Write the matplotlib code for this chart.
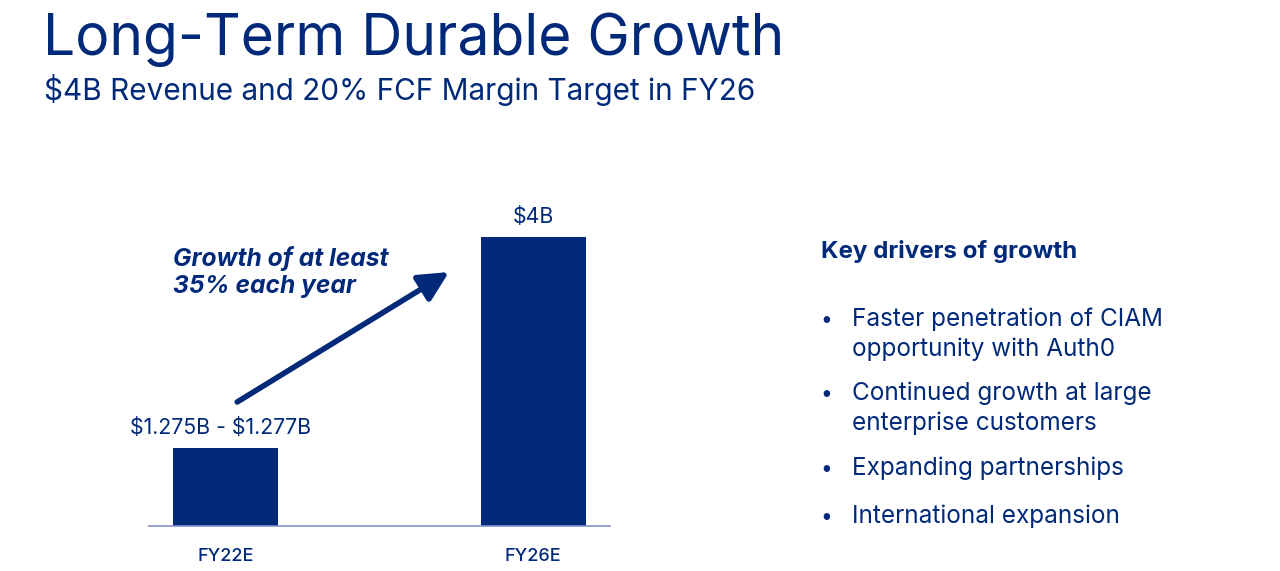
import matplotlib
matplotlib.use('Agg')
import matplotlib.pyplot as plt

# data
years = ['FY22E', 'FY26E']
revenue = [1.276, 4.0]
bar_labels = ['$1.275B - $1.277B', '$4B']
drivers = ['Faster penetration of CIAM\nopportunity with Auth0',
           'Continued growth at large\nenterprise customers',
           'Expanding partnerships',
           'International expansion']

NAVY = '#00297a'
W, H = 1280, 571

plt.rcParams['font.family'] = ['Inter', 'DejaVu Sans']
plt.rcParams['text.parse_math'] = False

fig = plt.figure(figsize=(W / 100, H / 100), dpi=100)
fig.patch.set_facecolor('white')

def fx(px):
    return px / W

def fy(py):
    return 1 - py / H

fig.text(fx(43), fy(55), 'Long-Term Durable Growth', fontsize=41, color=NAVY,
         va='baseline', ha='left')
fig.text(fx(44), fy(100), '$4B Revenue and 20% FCF Margin Target in FY26', fontsize=21.4,
         color=NAVY, va='baseline', ha='left')

# bar chart
ax = fig.add_axes([fx(149), 45 / H, (610 - 149) / W, (526 - 200) / H])
x = range(len(years))
bars = ax.bar(x, revenue, width=0.3425, color=NAVY)
ax.set_xlim(-0.25, 1.25)
ax.set_ylim(0.265, 4.474)
for s in ['top', 'left', 'right']:
    ax.spines[s].set_visible(False)
ax.spines['bottom'].set_color('#8190c6')
ax.spines['bottom'].set_linewidth(1.2)
ax.set_yticks([])
ax.set_xticks(list(x))
ax.set_xticklabels(years, fontsize=13, color=NAVY, fontweight='medium')
ax.tick_params(axis='x', length=0, pad=16)
labels = ax.bar_label(bars, labels=bar_labels, padding=7, fontsize=15.3, color=NAVY)
# the FY22E label sits a little left of its bar on the slide (offset in points)
labels[0].set_x(-3.6)

ax.annotate('', xy=(0.726, 3.544), xytext=(0.037, 1.866),
            arrowprops=dict(arrowstyle='-|>,head_length=1.8,head_width=0.9',
                            color=NAVY, lw=4, shrinkA=0, shrinkB=0))
for j, line in enumerate(['Growth of at least', '35% each year']):
    fig.text(fx(173), fy(266 + 27.5 * j), line, fontsize=17.7,
             fontweight='bold', fontstyle='italic', color=NAVY, va='baseline',
             ha='left')

# right side list
fig.text(fx(821), fy(258), 'Key drivers of growth', fontsize=17.4, fontweight='bold',
         color=NAVY, va='baseline', ha='left')
baselines = [326, 400, 475, 522.7]
for item, b in zip(drivers, baselines):
    fig.text(fx(820), fy(b), '\u2022', fontsize=15, color=NAVY, va='baseline', ha='left')
    for j, line in enumerate(item.split('\n')):
        fig.text(fx(852), fy(b + 30 * j), line, fontsize=17.5, color=NAVY,
                 va='baseline', ha='left')

fig.savefig('out.png', dpi=100, facecolor='white')
